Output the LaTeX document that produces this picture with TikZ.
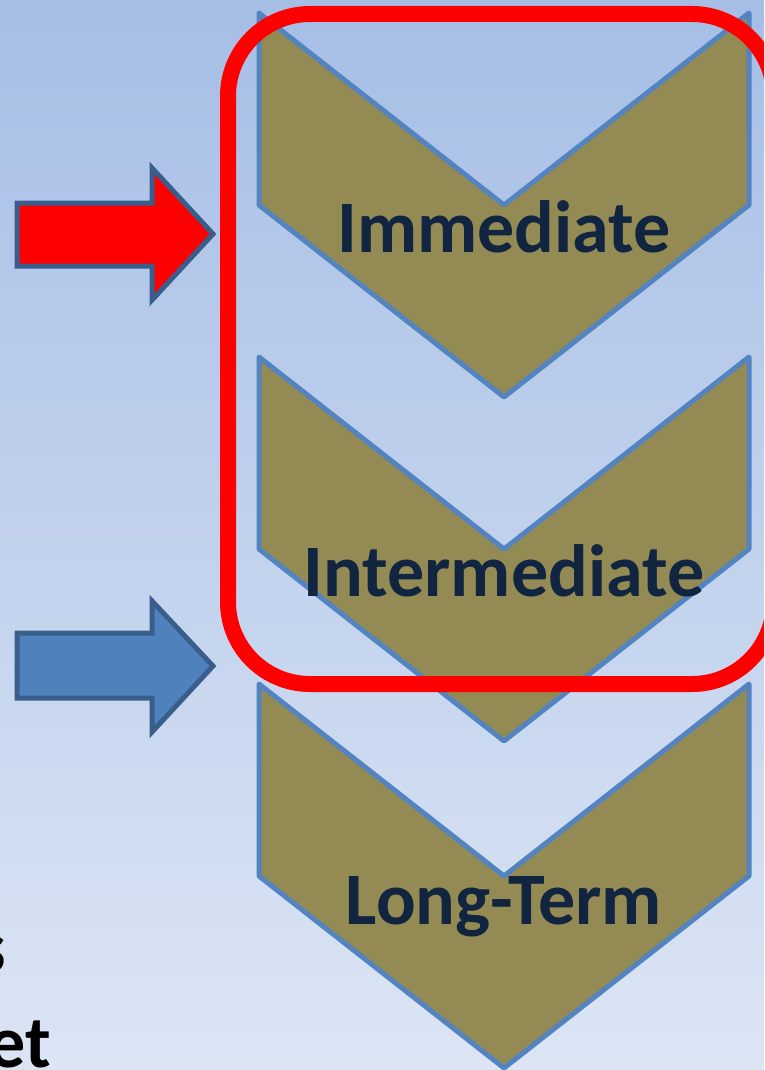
\documentclass[tikz,border=0pt]{standalone}
\usepackage{fontspec}
\setmainfont{Carlito}
\definecolor{bgtop}{RGB}{166,190,230}
\definecolor{bgbot}{RGB}{220,229,244}
\definecolor{olive}{RGB}{148,138,84}
\definecolor{chevline}{RGB}{84,132,192}
\definecolor{navy}{RGB}{17,36,64}
\definecolor{arrowline}{RGB}{58,94,140}
\definecolor{arrowblue}{RGB}{79,129,189}
\tikzset{
  chevron/.style={fill=olive, draw=chevline, line width=5pt, line join=round},
  label/.style={font=\fontsize{74}{88}\selectfont\bfseries, text=navy, inner sep=0pt},
  sidetext/.style={font=\fontsize{74}{88}\selectfont\bfseries, text=black, inner sep=0pt},
  blockarrow/.style={draw=arrowline, line width=5pt, line join=miter},
}
\begin{document}
\begin{tikzpicture}[x=1pt, y=-1pt]
  \useasboundingbox (0,0) rectangle (764,1070);
  \clip (0,0) rectangle (764,1070);
  % background
  \shade[top color=bgtop, bottom color=bgbot] (0,0) rectangle (764,1070);

  % three chevrons (top offset, depth 192)
  \foreach \t in {13,357,684} {
    \draw[chevron] (259,\t) -- (504,\t+192) -- (749,\t) -- (749,\t+192)
      -- (504,\t+384) -- (259,\t+192) -- cycle;
  }

  % stage labels
  \node[label, anchor=base] (imm) at (504,252) {Immediate};
  \node[label, anchor=base] (inter) at (504,596) {Intermediate};
  \node[label, anchor=base] (long) at (504,924) {Long-Term};

  % highlight frame around the first two stages
  \draw[red, line width=16pt, rounded corners=82pt] (228,14) rectangle (774,684);

  % pointer arrows
  \draw[blockarrow, fill=red] (17,203) -- (152,203) -- (152,168) -- (213,234)
    -- (152,300) -- (152,266) -- (17,266) -- cycle;
  \draw[blockarrow, fill=arrowblue] (17,633) -- (152,633) -- (152,601) -- (213,666)
    -- (152,732) -- (152,698) -- (17,698) -- cycle;

  % side text running off the left edge
  \node[sidetext, anchor=base east] (s) at (6,972) {s};
  \node[sidetext, anchor=base east] (et) at (51,1067) {et};
\end{tikzpicture}
\end{document}
